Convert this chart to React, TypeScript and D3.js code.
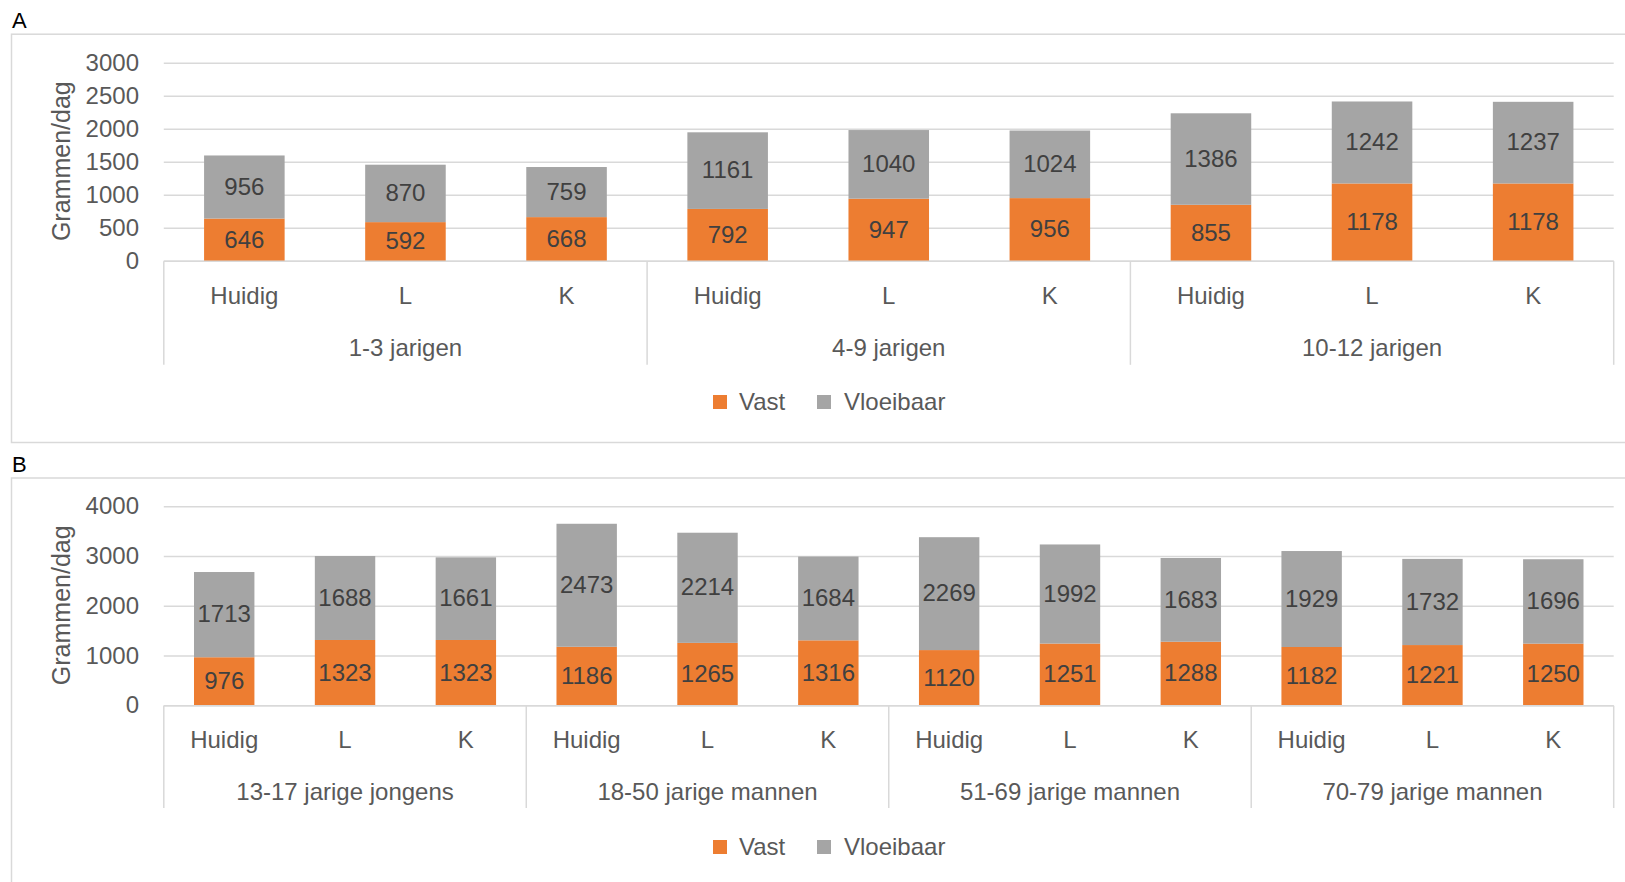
import React from "react";
import * as d3 from "d3";

const groupsA = ["1-3 jarigen", "4-9 jarigen", "10-12 jarigen"];
const groupsB = ["13-17 jarige jongens", "18-50 jarige mannen", "51-69 jarige mannen", "70-79 jarige mannen"];
const subCats = ["Huidig", "L", "K"];

const vastA = [646, 592, 668, 792, 947, 956, 855, 1178, 1178];
const vloeibaarA = [956, 870, 759, 1161, 1040, 1024, 1386, 1242, 1237];
const ticksA = [0, 500, 1000, 1500, 2000, 2500, 3000];

const vastB = [976, 1323, 1323, 1186, 1265, 1316, 1120, 1251, 1288, 1182, 1221, 1250];
const vloeibaarB = [1713, 1688, 1661, 2473, 2214, 1684, 2269, 1992, 1683, 1929, 1732, 1696];
const ticksB = [0, 1000, 2000, 3000, 4000];

const seriesNames = ["Vast", "Vloeibaar"];
const colors = ["#ED7D31", "#A5A5A5"];

const FONT = "'Liberation Sans', Arial, sans-serif";
const GRID = "#D9D9D9";
const DY = "0.32em";

type PanelProps = {
  label: string;
  labelY: number;
  frameTop: number;
  frameBottom: number;
  yTop: number;
  yZero: number;
  groups: string[];
  vast: number[];
  vloeibaar: number[];
  ticks: number[];
  catY: number;
  groupY: number;
  sepBottom: number;
  legendY: number;
};

function Panel(p: PanelProps) {
  const left = 163.8;
  const right = 1613.7;
  const cats: string[] = [];
  p.groups.forEach((g, gi) => subCats.forEach((c) => cats.push(gi + "|" + c)));
  const x = d3.scaleBand<string>().domain(cats).range([left, right]).paddingInner(0.5).paddingOuter(0.25);
  const y = d3
    .scaleLinear()
    .domain([0, p.ticks[p.ticks.length - 1]])
    .range([p.yZero, p.yTop]);
  const step = x.step();
  const stackData = cats.map((c, i) => ({ key: c, Vast: p.vast[i], Vloeibaar: p.vloeibaar[i] }));
  const stacked = d3.stack<any>().keys(seriesNames)(stackData);

  return (
    <g>
      <text x={12} y={p.labelY} fontFamily={FONT} fontSize={22} fill="#000">
        {p.label}
      </text>
      <rect
        x={11.5}
        y={p.frameTop}
        width={1640}
        height={p.frameBottom - p.frameTop}
        fill="#fff"
        stroke={GRID}
        strokeWidth={1.5}
      />
      {p.ticks.map((t) => (
        <g key={t}>
          <line x1={left} x2={right} y1={y(t)} y2={y(t)} stroke={GRID} strokeWidth={1.5} />
          <text
            x={139}
            y={y(t)}
            dy={DY}
            textAnchor="end"
            fontFamily={FONT}
            fontSize={24}
            fill="#595959"
          >
            {t}
          </text>
        </g>
      ))}
      <text
        transform={`translate(70,${(p.yTop + p.yZero) / 2 - 1}) rotate(-90)`}
        textAnchor="middle"
        fontFamily={FONT}
        fontSize={25}
        fill="#595959"
      >
        Grammen/dag
      </text>
      {stacked.map((s, si) =>
        s.map((d, i) => (
          <rect
            key={si + "-" + i}
            x={x(cats[i])!}
            width={x.bandwidth()}
            y={y(d[1])}
            height={y(d[0]) - y(d[1])}
            fill={colors[si]}
          />
        ))
      )}
      {stacked.map((s, si) =>
        s.map((d, i) => (
          <text
            key={"l" + si + "-" + i}
            x={x(cats[i])! + x.bandwidth() / 2}
            y={(y(d[0]) + y(d[1])) / 2}
            dy={DY}
            textAnchor="middle"
            fontFamily={FONT}
            fontSize={24}
            fill="#404040"
          >
            {si === 0 ? p.vast[i] : p.vloeibaar[i]}
          </text>
        ))
      )}
      <line x1={left} x2={right} y1={p.yZero} y2={p.yZero} stroke={GRID} strokeWidth={1.5} />
      {d3.range(p.groups.length + 1).map((gi) => {
        const sx = left + gi * 3 * step;
        return (
          <line key={"sep" + gi} x1={sx} x2={sx} y1={p.yZero} y2={p.sepBottom} stroke={GRID} strokeWidth={1.5} />
        );
      })}
      {cats.map((c) => (
        <text
          key={"c" + c}
          x={x(c)! + x.bandwidth() / 2}
          y={p.catY}
          dy={DY}
          textAnchor="middle"
          fontFamily={FONT}
          fontSize={24}
          fill="#595959"
        >
          {c.split("|")[1]}
        </text>
      ))}
      {p.groups.map((g, gi) => (
        <text
          key={"g" + gi}
          x={left + (gi + 0.5) * 3 * step}
          y={p.groupY}
          dy={DY}
          textAnchor="middle"
          fontFamily={FONT}
          fontSize={24}
          fill="#595959"
        >
          {g}
        </text>
      ))}
      <g>
        <rect x={713} y={p.legendY - 7} width={14} height={14} fill={colors[0]} />
        <text x={739} y={p.legendY} dy={DY} fontFamily={FONT} fontSize={24} fill="#595959">
          {seriesNames[0]}
        </text>
        <rect x={817} y={p.legendY - 7} width={14} height={14} fill={colors[1]} />
        <text x={844} y={p.legendY} dy={DY} fontFamily={FONT} fontSize={24} fill="#595959">
          {seriesNames[1]}
        </text>
      </g>
    </g>
  );
}

export default function App() {
  return (
    <svg
      width={1625}
      height={882}
      style={{ position: "absolute", left: 0, top: 0, background: "#fff" }}
    >
      <rect x={0} y={0} width={1625} height={882} fill="#fff" />
      <Panel
        label="A"
        labelY={28}
        frameTop={34.2}
        frameBottom={442.5}
        yTop={63.2}
        yZero={261.2}
        groups={groupsA}
        vast={vastA}
        vloeibaar={vloeibaarA}
        ticks={ticksA}
        catY={296}
        groupY={348}
        sepBottom={364.8}
        legendY={402}
      />
      <Panel
        label="B"
        labelY={472}
        frameTop={478}
        frameBottom={900}
        yTop={506.8}
        yZero={705.8}
        groups={groupsB}
        vast={vastB}
        vloeibaar={vloeibaarB}
        ticks={ticksB}
        catY={740}
        groupY={792}
        sepBottom={808}
        legendY={847}
      />
    </svg>
  );
}
